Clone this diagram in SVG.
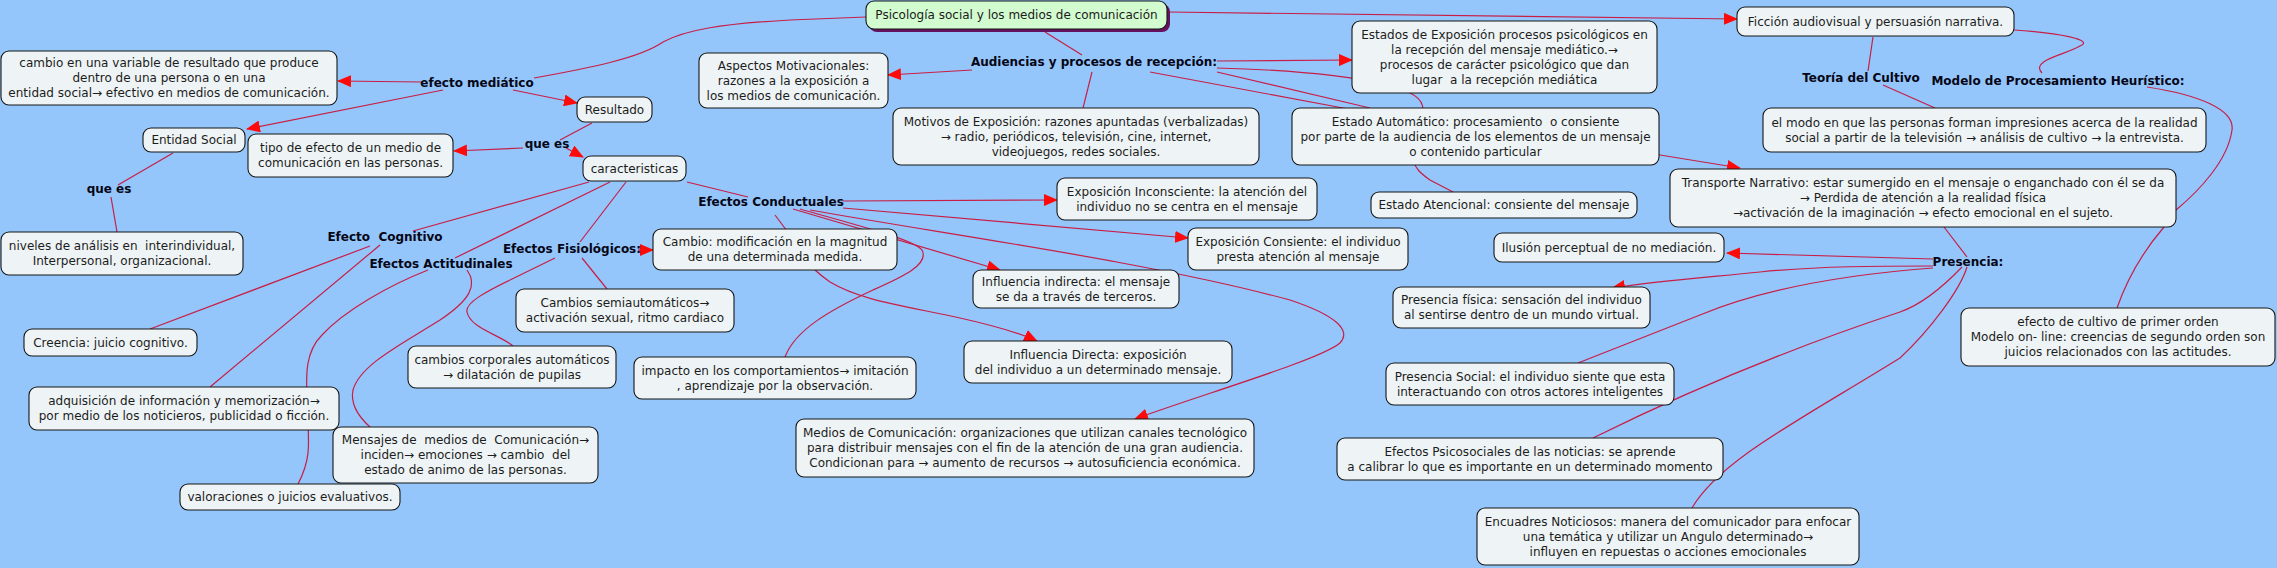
<svg xmlns="http://www.w3.org/2000/svg" width="2277" height="568" viewBox="0 0 2277 568">
<style>
.bg{fill:#94c6fb}
.n rect{fill:#eef4f6;stroke:#161616;stroke-width:1.1}
.m rect.f{fill:#d2fbcf;stroke:#161616;stroke-width:1.1}
.m rect.s{fill:#66115e}
text{font-family:"DejaVu Sans",Verdana,sans-serif;font-size:12px;fill:#1c1c1c;text-anchor:middle;white-space:pre}
.b{font-weight:bold;fill:#060616}
.c path{fill:none;stroke:#c81e46;stroke-width:1.2}
</style>
<defs>
<marker id="ar" markerUnits="userSpaceOnUse" markerWidth="14" markerHeight="12" viewBox="0 0 14 12" refX="13" refY="6" orient="auto">
<path d="M0,0 L14,6 L0,12 z" fill="#ff0a0a"/>
</marker>
</defs>
<rect class="bg" x="0" y="0" width="2277" height="568"/>

<g id="connectors" class="c">
<path d="M866,17 L790,20 C720,24 685,30 663,42 C640,58 590,68 534,78"/>
<path d="M422,82 L338,81" marker-end="url(#ar)"/>
<path d="M443,90 L247,129" marker-end="url(#ar)"/>
<path d="M513,90 L577,103" marker-end="url(#ar)"/>
<path d="M592,123 L560,140"/>
<path d="M523,148 L454,151" marker-end="url(#ar)"/>
<path d="M566,148 L583,157" marker-end="url(#ar)"/>
<path d="M173,153 L118,185"/>
<path d="M111,197 L117,232"/>
<path d="M589,182 L413,231"/>
<path d="M370,246 L150,329"/>
<path d="M380,245 L210,387"/>
<path d="M610,182 L455,258"/>
<path d="M428,270 C390,285 345,310 322,335 C305,352 306,375 307,400 C308,440 313,455 298,484"/>
<path d="M467,270 C478,285 470,300 440,320 C400,345 360,365 353,390 C350,405 360,418 370,427"/>
<path d="M626,182 L580,242"/>
<path d="M638,250 L653,250" marker-end="url(#ar)"/>
<path d="M555,258 L510,280 C485,292 465,303 467,312 C470,328 500,335 513,346"/>
<path d="M582,258 L607,289"/>
<path d="M687,182 L748,197"/>
<path d="M843,201 L1057,200" marker-end="url(#ar)"/>
<path d="M843,208 L1188,238" marker-end="url(#ar)"/>
<path d="M810,210 C950,235 1150,262 1290,300 C1335,315 1352,330 1340,343 C1320,360 1200,395 1135,419" marker-end="url(#ar)"/>
<path d="M793,209 L1000,270" marker-end="url(#ar)"/>
<path d="M800,209 C860,226 915,240 922,250 C930,265 900,278 873,290 C830,310 795,330 785,357"/>
<path d="M775,215 L790,235 C800,255 810,268 830,282 C860,300 900,305 960,318 C1000,327 1020,333 1037,341" marker-end="url(#ar)"/>
<path d="M1045,32 L1082,55"/>
<path d="M1168,12 L1737,19" marker-end="url(#ar)"/>
<path d="M972,70 L888,75" marker-end="url(#ar)"/>
<path d="M1092,72 L1083,108"/>
<path d="M1217,61 L1352,60" marker-end="url(#ar)"/>
<path d="M1217,68 C1300,70 1380,78 1410,93 C1425,100 1425,108 1420,130 C1410,160 1410,166 1430,180 L1453,192"/>
<path d="M1217,72 L1370,108"/>
<path d="M1150,72 L1343,108 L1660,155 L1740,168" marker-end="url(#ar)"/>
<path d="M1873,37 L1868,71"/>
<path d="M1883,85 L1935,108"/>
<path d="M2014,30 C2060,33 2095,40 2080,46 C2065,55 2030,60 2042,73"/>
<path d="M2147,87 C2200,95 2235,110 2232,130 C2228,160 2200,190 2176,210 L2164,227 C2140,255 2125,285 2117,308"/>
<path d="M1944,227 L1967,257"/>
<path d="M1933,259 L1727,253" marker-end="url(#ar)"/>
<path d="M1933,266 C1880,266 1820,266 1760,272 C1700,278 1650,282 1612,288" marker-end="url(#ar)"/>
<path d="M1933,268 C1840,275 1760,290 1700,315 C1650,335 1610,350 1578,363"/>
<path d="M1962,267 C1940,290 1920,305 1900,312 C1800,345 1700,385 1593,438"/>
<path d="M1967,267 C1960,290 1930,330 1900,358 C1800,420 1720,460 1692,508"/>
</g>

<g id="n-main" class="m"><rect class="s" x="869" y="4" width="301" height="28" rx="8"/><rect class="f" x="866" y="1" width="301" height="28" rx="8"/><text x="1016.5" y="19">Psicología social y los medios de comunicación</text></g>

<g id="n-cambio" class="n"><rect x="1" y="51" width="336" height="54" rx="8"/><text x="169" y="67">cambio en una variable de resultado que produce</text><text x="169" y="82">dentro de una persona o en una</text><text x="169" y="97">entidad social→ efectivo en medios de comunicación.</text></g>
<g id="n-entidad" class="n"><rect x="143" y="128" width="102" height="24" rx="8"/><text x="194" y="144">Entidad Social</text></g>
<g id="n-tipo" class="n"><rect x="248" y="134" width="205" height="43" rx="8"/><text x="350.5" y="152">tipo de efecto de un medio de</text><text x="350.5" y="167">comunicación en las personas.</text></g>
<g id="n-niveles" class="n"><rect x="1" y="232" width="242" height="43" rx="8"/><text x="122" y="250">niveles de análisis en  interindividual,</text><text x="122" y="265">Interpersonal, organizacional.</text></g>
<g id="n-resultado" class="n"><rect x="577" y="97" width="75" height="25" rx="8"/><text x="614.5" y="113.5">Resultado</text></g>
<g id="n-caracteristicas" class="n"><rect x="583" y="156" width="103" height="25" rx="8"/><text x="634.5" y="172.5">caracteristicas</text></g>
<g id="n-aspectos" class="n"><rect x="699" y="53" width="189" height="55" rx="8"/><text x="793.5" y="69.5">Aspectos Motivacionales:</text><text x="793.5" y="84.5">razones a la exposición a</text><text x="793.5" y="99.5">los medios de comunicación.</text></g>
<g id="n-motivos" class="n"><rect x="893" y="108" width="366" height="57" rx="8"/><text x="1076" y="125.5">Motivos de Exposición: razones apuntadas (verbalizadas)</text><text x="1076" y="140.5">→ radio, periódicos, televisión, cine, internet,</text><text x="1076" y="155.5">videojuegos, redes sociales.</text></g>
<g id="n-estados" class="n"><rect x="1352" y="21" width="305" height="72" rx="8"/><text x="1504.5" y="38.5">Estados de Exposición procesos psicológicos en</text><text x="1504.5" y="53.5">la recepción del mensaje mediático.→</text><text x="1504.5" y="68.5">procesos de carácter psicológico que dan</text><text x="1504.5" y="83.5">lugar  a la recepción mediática</text></g>
<g id="n-automatico" class="n"><rect x="1292" y="108" width="367" height="57" rx="8"/><text x="1475.5" y="125.5">Estado Automático: procesamiento  o consiente</text><text x="1475.5" y="140.5">por parte de la audiencia de los elementos de un mensaje</text><text x="1475.5" y="155.5">o contenido particular</text></g>
<g id="n-atencional" class="n"><rect x="1371" y="192" width="266" height="26" rx="8"/><text x="1504" y="209">Estado Atencional: consiente del mensaje</text></g>
<g id="n-ficcion" class="n"><rect x="1737" y="7" width="277" height="29" rx="8"/><text x="1875.5" y="25.5">Ficción audiovisual y persuasión narrativa.</text></g>
<g id="n-modo" class="n"><rect x="1763" y="108" width="443" height="44" rx="8"/><text x="1984.5" y="126.5">el modo en que las personas forman impresiones acerca de la realidad</text><text x="1984.5" y="141.5">social a partir de la televisión → análisis de cultivo → la entrevista.</text></g>
<g id="n-transporte" class="n"><rect x="1670" y="169" width="506" height="58" rx="8"/><text x="1923" y="187">Transporte Narrativo: estar sumergido en el mensaje o enganchado con él se da</text><text x="1923" y="202">→ Perdida de atención a la realidad física</text><text x="1923" y="217">→activación de la imaginación → efecto emocional en el sujeto.</text></g>
<g id="n-ilusion" class="n"><rect x="1494" y="233" width="230" height="29" rx="8"/><text x="1609" y="251.5">Ilusión perceptual de no mediación.</text></g>
<g id="n-inconsciente" class="n"><rect x="1057" y="178" width="260" height="42" rx="8"/><text x="1187" y="195.5">Exposición Inconsciente: la atención del</text><text x="1187" y="210.5">individuo no se centra en el mensaje</text></g>
<g id="n-consiente" class="n"><rect x="1188" y="228" width="220" height="42" rx="8"/><text x="1298" y="245.5">Exposición Consiente: el individuo</text><text x="1298" y="260.5">presta atención al mensaje</text></g>
<g id="n-cambio2" class="n"><rect x="653" y="229" width="244" height="41" rx="8"/><text x="775" y="246">Cambio: modificación en la magnitud</text><text x="775" y="261">de una determinada medida.</text></g>
<g id="n-indirecta" class="n"><rect x="973" y="270" width="206" height="38" rx="8"/><text x="1076" y="285.5">Influencia indirecta: el mensaje</text><text x="1076" y="300.5">se da a través de terceros.</text></g>
<g id="n-semiauto" class="n"><rect x="516" y="289" width="218" height="43" rx="8"/><text x="625" y="307">Cambios semiautomáticos→</text><text x="625" y="322">activación sexual, ritmo cardiaco</text></g>
<g id="n-corporales" class="n"><rect x="408" y="346" width="208" height="42" rx="8"/><text x="512" y="363.5">cambios corporales automáticos</text><text x="512" y="378.5">→ dilatación de pupilas</text></g>
<g id="n-impacto" class="n"><rect x="634" y="357" width="282" height="42" rx="8"/><text x="775" y="374.5">impacto en los comportamientos→ imitación</text><text x="775" y="389.5">, aprendizaje por la observación.</text></g>
<g id="n-directa" class="n"><rect x="964" y="341" width="268" height="42" rx="8"/><text x="1098" y="358.5">Influencia Directa: exposición</text><text x="1098" y="373.5">del individuo a un determinado mensaje.</text></g>
<g id="n-medios" class="n"><rect x="796" y="419" width="458" height="58" rx="8"/><text x="1025" y="437">Medios de Comunicación: organizaciones que utilizan canales tecnológico</text><text x="1025" y="452">para distribuir mensajes con el fin de la atención de una gran audiencia.</text><text x="1025" y="467">Condicionan para → aumento de recursos → autosuficiencia económica.</text></g>
<g id="n-creencia" class="n"><rect x="24" y="329" width="173" height="27" rx="8"/><text x="110.5" y="346.5">Creencia: juicio cognitivo.</text></g>
<g id="n-adquisicion" class="n"><rect x="29" y="387" width="310" height="43" rx="8"/><text x="184" y="405">adquisición de información y memorización→</text><text x="184" y="420">por medio de los noticieros, publicidad o ficción.</text></g>
<g id="n-mensajes" class="n"><rect x="333" y="427" width="265" height="56" rx="8"/><text x="465.5" y="444">Mensajes de  medios de  Comunicación→</text><text x="465.5" y="459">inciden→ emociones → cambio  del</text><text x="465.5" y="474">estado de animo de las personas.</text></g>
<g id="n-valoraciones" class="n"><rect x="180" y="484" width="220" height="26" rx="8"/><text x="290" y="501">valoraciones o juicios evaluativos.</text></g>
<g id="n-presfisica" class="n"><rect x="1393" y="287" width="257" height="41" rx="8"/><text x="1521.5" y="304">Presencia física: sensación del individuo</text><text x="1521.5" y="319">al sentirse dentro de un mundo virtual.</text></g>
<g id="n-pressocial" class="n"><rect x="1386" y="363" width="288" height="42" rx="8"/><text x="1530" y="380.5">Presencia Social: el individuo siente que esta</text><text x="1530" y="395.5">interactuando con otros actores inteligentes</text></g>
<g id="n-psicosociales" class="n"><rect x="1337" y="438" width="386" height="42" rx="8"/><text x="1530" y="455.5">Efectos Psicosociales de las noticias: se aprende</text><text x="1530" y="470.5">a calibrar lo que es importante en un determinado momento</text></g>
<g id="n-encuadres" class="n"><rect x="1477" y="508" width="382" height="57" rx="8"/><text x="1668" y="525.5">Encuadres Noticiosos: manera del comunicador para enfocar</text><text x="1668" y="540.5">una temática y utilizar un Angulo determinado→</text><text x="1668" y="555.5">influyen en repuestas o acciones emocionales</text></g>
<g id="n-cultivo" class="n"><rect x="1961" y="308" width="314" height="58" rx="8"/><text x="2118" y="326">efecto de cultivo de primer orden</text><text x="2118" y="341">Modelo on- line: creencias de segundo orden son</text><text x="2118" y="356">juicios relacionados con las actitudes.</text></g>

<g id="l-efecto-mediatico"><text class="b" x="477" y="87">efecto mediático</text></g>
<g id="l-que-es-1"><text class="b" x="109" y="193">que es</text></g>
<g id="l-que-es-2"><text class="b" x="547" y="148">que es</text></g>
<g id="l-cognitivo"><text class="b" x="385" y="241">Efecto  Cognitivo</text></g>
<g id="l-actitudinales"><text class="b" x="441" y="268">Efectos Actitudinales</text></g>
<g id="l-fisiologicos"><text class="b" x="572" y="253">Efectos Fisiológicos:</text></g>
<g id="l-conductuales"><text class="b" x="771" y="206">Efectos Conductuales</text></g>
<g id="l-audiencias"><text class="b" x="1094" y="66">Audiencias y procesos de recepción:</text></g>
<g id="l-teoria"><text class="b" x="1861" y="82">Teoría del Cultivo</text></g>
<g id="l-modelo"><text class="b" x="2058" y="85">Modelo de Procesamiento Heurístico:</text></g>
<g id="l-presencia"><text class="b" x="1968" y="266">Presencia:</text></g>
</svg>
